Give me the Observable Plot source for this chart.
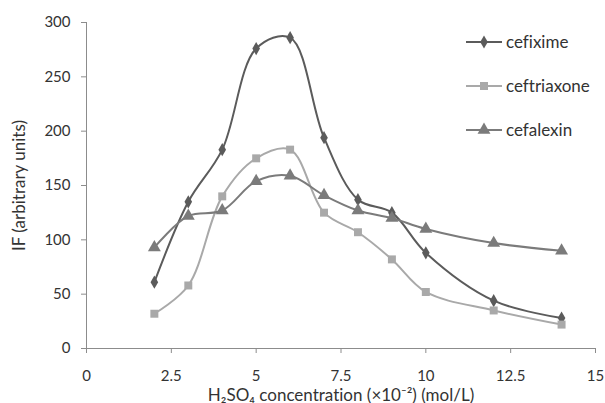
<!DOCTYPE html>
<html><head><meta charset="utf-8">
<script src="https://cdn.jsdelivr.net/npm/d3@7"></script>
<script src="https://cdn.jsdelivr.net/npm/@observablehq/plot@0.6"></script>
<style>
body{margin:0;background:#fff;font-family:Lato,"Open Sans",sans-serif;font-variant-ligatures:none}
#wrap{position:relative;width:605px;height:403px}
#legend{position:absolute;left:466px;top:32px;font-size:17px;color:#333;line-height:20px}
#legend .row{display:flex;align-items:center;height:20px;margin-bottom:24px}
#legend svg{margin-right:4px}
svg text{font-variant-ligatures:none}
</style>
</head><body><div id="wrap"><div id="legend"></div></div>
<script>
const concentrations = [2,3,4,5,6,7,8,9,10,12,14];
const cefixime    = [61,135,183,276,286,194,137,125,88,44,28];
const ceftriaxone = [32,58,140,175,183,125,107,82,52,35,22];
const cefalexin   = [93,122,127,154,159,141,127,120,110,97,90];
const seriesNames = ["cefixime","ceftriaxone","cefalexin"];
const xTicks = [0,2.5,5,7.5,10,12.5,15];
const yTicks = [0,50,100,150,200,250,300];

const seriesValues = {cefixime, ceftriaxone, cefalexin};
const colors = {cefixime:"#5b5b5b", ceftriaxone:"#a9a9a9", cefalexin:"#7b7b7b"};
const symbols = {cefixime:"diamond", ceftriaxone:"square", cefalexin:"triangle"};
const sizes = {cefixime:4, ceftriaxone:4.5, cefalexin:4.8};

const rows = seriesNames.flatMap(s => concentrations.map((c,i) => ({series:s, x:c, y:seriesValues[s][i]})));

const marks = [
  Plot.ruleY([0], {stroke:"#8c8c8c"}),
  Plot.ruleX([0], {stroke:"#8c8c8c"}),
  Plot.axisX({ticks:xTicks, tickSize:5, tickPadding:17, stroke:"#8c8c8c", fill:"#333", fontSize:15, label:null,
    tickFormat:d=>String(d)}),
  Plot.axisX({ticks:[], label:"H\u2082SO\u2084 concentration (\u00d710\u207b\u00b2) (mol/L)", labelAnchor:"center", labelArrow:"none", labelOffset:52, fontSize:17, fill:"#333"}),
  Plot.axisY({ticks:yTicks, tickSize:5, tickPadding:11, stroke:"#8c8c8c", fill:"#333", fontSize:15, label:null}),
  Plot.axisY({ticks:[], label:"IF (arbitrary units)", labelAnchor:"center", labelArrow:"none", labelOffset:74, fontSize:17, fill:"#333"})
];
for (const s of seriesNames) {
  const d = rows.filter(r => r.series === s);
  marks.push(Plot.line(d, {x:"x", y:"y", stroke:colors[s], strokeWidth:2, curve:"catmull-rom"}));
}
for (const s of seriesNames) {
  const d = rows.filter(r => r.series === s);
  marks.push(Plot.dot(d, {x:"x", y:"y", fill:colors[s], stroke:"none", symbol:symbols[s], r:sizes[s]}));
}

const chart = Plot.plot({
  width:605, height:403,
  marginLeft:86, marginRight:10, marginTop:22, marginBottom:55,
  x:{type:"linear", domain:[0,15]},
  y:{type:"linear", domain:[0,300]},
  style:{fontFamily:"Lato, 'Open Sans', sans-serif", fontSize:"15px", color:"#333", background:"#fff"},
  marks
});
document.getElementById("wrap").prepend(chart);

const legend = document.getElementById("legend");
for (const s of seriesNames) {
  const row = document.createElement("div");
  row.className = "row";
  const sym = d3.symbol(d3["symbol" + symbols[s][0].toUpperCase() + symbols[s].slice(1)], Math.PI*sizes[s]*sizes[s])();
  row.innerHTML = `<svg width="36" height="16"><line x1="0" x2="36" y1="8" y2="8" stroke="${colors[s]}" stroke-width="2"/><path d="${sym}" transform="translate(18,8)" fill="${colors[s]}"/></svg><span>${s}</span>`;
  legend.appendChild(row);
}
</script>
</body></html>
